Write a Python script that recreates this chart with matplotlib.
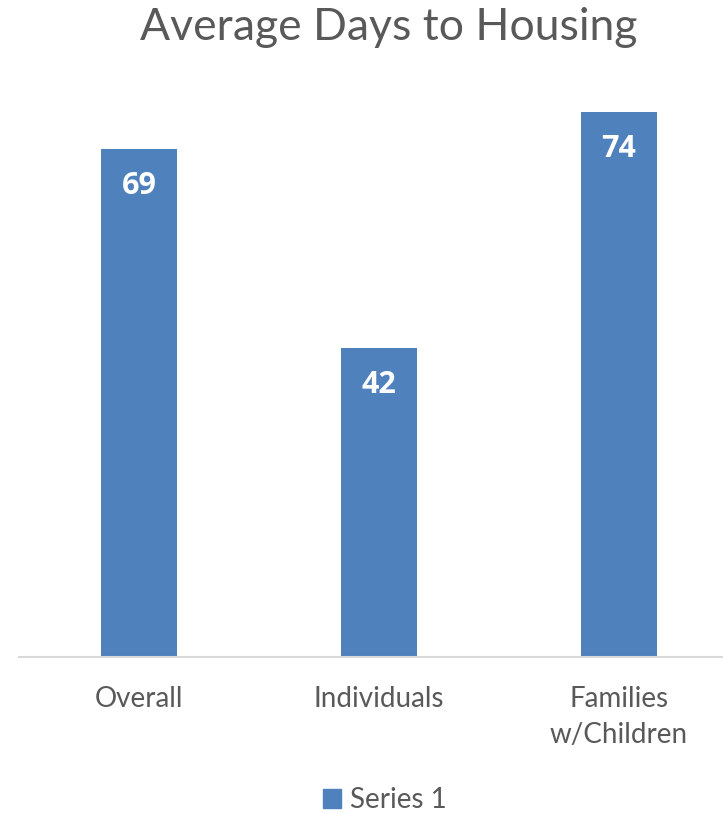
import matplotlib
matplotlib.use("Agg")
import matplotlib.pyplot as plt
from matplotlib.patches import Patch

categories = ["Overall", "Individuals", "Families\nw/Children"]
values = [69, 42, 74]
series_name = "Series 1"
title = "Average Days to Housing"

W, H = 723, 813
dpi = 100
fig = plt.figure(figsize=(W / dpi, H / dpi), dpi=dpi)
plt.rcParams['font.family'] = ['Lato', 'DejaVu Sans']

px_per_unit = 7.36
ymax = 80
base_y = 657
ax_left = 19
ax_right = 723
cat_w = 240
ax_h = ymax * px_per_unit
ax = fig.add_axes([ax_left / W, (H - base_y) / H, (ax_right - ax_left) / W, ax_h / H])

x = list(range(len(categories)))
color = "#4F81BD"
bars = ax.bar(x, values, width=76 / cat_w, color=color)
ax.set_xlim(-0.5, -0.5 + (ax_right - ax_left) / cat_w)
ax.set_ylim(0, ymax)

for xi, v in zip(x, values):
    ax.text(xi, v - 37 / px_per_unit, str(v), ha="center", va="center",
            color="white", fontsize=22, fontweight="bold", family="Open Sans")

for s in ["top", "right", "left"]:
    ax.spines[s].set_visible(False)
ax.spines["bottom"].set_color("#D9D9D9")
ax.spines["bottom"].set_linewidth(1.5)
ax.set_yticks([])
ax.set_xticks(x)
ax.set_xticklabels(categories, fontsize=20, color="#595959", linespacing=1.45)
ax.tick_params(axis="x", length=0, pad=21)

fig.text(389 / W, 1 - 27 / H, title, ha="center", va="center", fontsize=32, color="#595959")

fig.legend(handles=[Patch(color=color, label=series_name)], loc="center",
           bbox_to_anchor=(385 / W, 1 - 800 / H), frameon=False, fontsize=20,
           handlelength=0.65, handleheight=0.65, handletextpad=0.3, labelcolor="#595959")

fig.savefig("out.png", dpi=dpi)
